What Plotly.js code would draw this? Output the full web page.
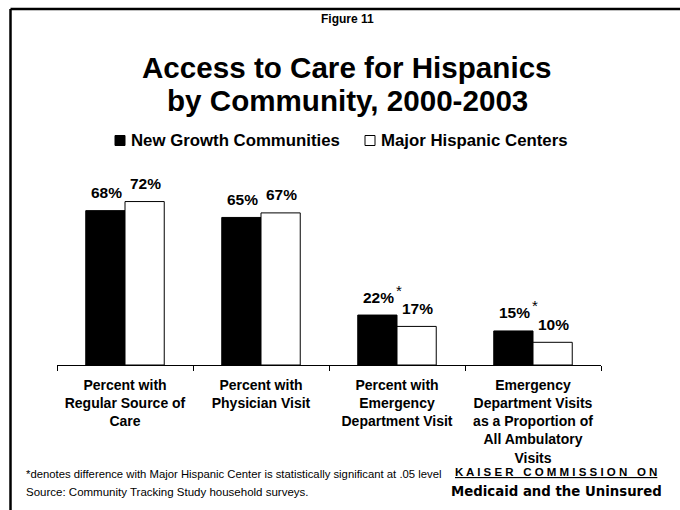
<!DOCTYPE html>
<html>
<head>
<meta charset="utf-8">
<script src="https://cdn.plot.ly/plotly-3.0.1.min.js"></script>
<style>html,body{margin:0;padding:0;background:#fff;}#chart{width:680px;height:510px;}</style>
</head>
<body>
<div id="chart"></div>
<script>
const categories = ["Regular", "Physician", "ED", "EDProp"];
const tickLabels = [
  "Percent with<br>Regular Source of<br>Care",
  "Percent with<br>Physician Visit<br> ",
  "Percent with<br>Emergency<br>Department Visit",
  "Emergency<br>Department Visits<br>as a Proportion of<br>All Ambulatory<br>Visits"
];
const seriesNames = ["New Growth Communities", "Major Hispanic Centers"];
const seriesColors = ["#000000", "#ffffff"];
const newGrowth = [68, 65, 22, 15];
const majorCenters = [72, 67, 17, 10];
const significant = [false, false, true, true];

const FONT = "Liberation Sans, Arial, sans-serif";
const pct = v => v + "%";

// plot area geometry helpers (paper coords)
const L = 57, R = 601, T = 165, B = 365;
const px = x => (x - L) / (R - L);
const py = y => (B - y) / (B - T);
const barOffset = [-19.6, 19.6];

const traces = [newGrowth, majorCenters].map((vals, k) => ({
  type: "bar", name: seriesNames[k], x: categories, y: vals,
  marker: {color: seriesColors[k], line: {color: "#000000", width: 1}},
  hoverinfo: "skip", showlegend: false
}));

const annotations = [];
[newGrowth, majorCenters].forEach((vals, k) => {
  vals.forEach((v, i) => {
    annotations.push({
      x: categories[i], y: v, xref: "x", yref: "y", text: "<b>" + pct(v) + "</b>",
      showarrow: false, xshift: barOffset[k] + 1, yshift: 18, xanchor: "center", yanchor: "middle",
      font: {family: FONT, size: 15.5, color: "#000"}
    });
  });
});
categories.forEach((c, i) => {
  if (significant[i]) {
    annotations.push({
      x: c, y: newGrowth[i], xref: "x", yref: "y", text: "*",
      showarrow: false, xshift: 2, yshift: 25, xanchor: "center", yanchor: "middle",
      font: {family: FONT, size: 15, color: "#000"}
    });
  }
});
// legend (text from series names)
const legendX = [131, 381];
const legendSq = [115, 365];
seriesNames.forEach((n, k) => {
  annotations.push({text: "<b>" + n + "</b>", x: px(legendX[k] - 2), y: py(140), xref: "paper", yref: "paper",
    showarrow: false, xanchor: "left", yanchor: "middle", font: {family: FONT, size: 16.8, color: "#000"}});
});
annotations.push(
  {text: "<b>Figure 11</b>", x: px(347), y: py(19), xref: "paper", yref: "paper",
   showarrow: false, xanchor: "center", yanchor: "middle", font: {family: FONT, size: 12, color: "#000"}},
  {text: "<b>Access to Care for Hispanics</b>", x: px(347), y: py(67), xref: "paper", yref: "paper",
   showarrow: false, xanchor: "center", yanchor: "middle", font: {family: FONT, size: 29.6, color: "#000"}},
  {text: "<b>by Community, 2000-2003</b>", x: px(347), y: py(101), xref: "paper", yref: "paper",
   showarrow: false, xanchor: "center", yanchor: "middle", font: {family: FONT, size: 29.6, color: "#000"}},
  {text: "*denotes difference with Major Hispanic Center is statistically significant at .05 level",
   x: px(24), y: py(474), xref: "paper", yref: "paper", showarrow: false, xanchor: "left", yanchor: "middle",
   font: {family: FONT, size: 11.3, color: "#000"}},
  {text: "Source: Community Tracking Study household surveys.",
   x: px(24), y: py(492), xref: "paper", yref: "paper", showarrow: false, xanchor: "left", yanchor: "middle",
   font: {family: FONT, size: 11.5, color: "#000"}},
  {text: "<b><u>K A I S E R   C O M M I S S I O N   O N</u></b>",
   x: px(556), y: py(472), xref: "paper", yref: "paper", showarrow: false, xanchor: "center", yanchor: "middle",
   font: {family: FONT, size: 11.5, color: "#000"}},
  {text: "<b>Medicaid and the Uninsured</b>",
   x: px(556), y: py(491), xref: "paper", yref: "paper", showarrow: false, xanchor: "center", yanchor: "middle",
   font: {family: "DejaVu Sans, sans-serif", size: 13.3, color: "#000"}}
);

const shapes = [
  {type: "line", xref: "paper", yref: "paper", x0: px(10.5), x1: px(680), y0: py(9), y1: py(9),
   line: {color: "#000", width: 2.5}},
  {type: "line", xref: "paper", yref: "paper", x0: px(10.5), x1: px(10.5), y0: py(9), y1: py(510),
   line: {color: "#000", width: 2.5}}
];
legendSq.forEach((sx, k) => {
  shapes.push({type: "rect", xref: "paper", yref: "paper", x0: px(sx), x1: px(sx + 10), y0: py(135.5), y1: py(145.5),
    fillcolor: seriesColors[k], line: {color: "#000", width: 1}});
});

const layout = {
  width: 680, height: 510,
  margin: {l: L, r: 680 - R, t: T, b: 510 - B, pad: 0},
  paper_bgcolor: "#fff", plot_bgcolor: "#fff",
  barmode: "group", bargap: 0.423, bargroupgap: 0,
  showlegend: false,
  xaxis: {type: "category", tickmode: "array", tickvals: categories, ticktext: tickLabels,
          showline: true, linecolor: "#000", linewidth: 1, ticks: "outside", tickson: "boundaries",
          ticklen: 5, tickcolor: "#000", showgrid: false, zeroline: false, fixedrange: true,
          ticklabelstandoff: 7,
          tickfont: {family: FONT, size: 14, color: "#000", weight: "bold"}},
  yaxis: {range: [0, 88.1], visible: false, showgrid: false, zeroline: false, fixedrange: true},
  annotations: annotations, shapes: shapes
};

Plotly.newPlot("chart", traces, layout, {displayModeBar: false, staticPlot: true});
</script>
</body>
</html>
